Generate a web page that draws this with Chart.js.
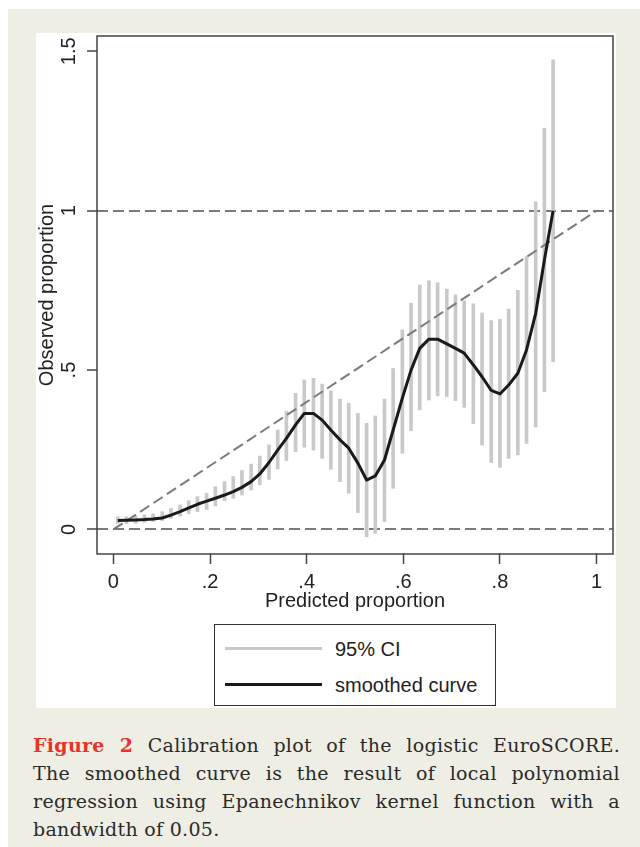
<!DOCTYPE html>
<html>
<head>
<meta charset="utf-8">
<script src="https://cdn.jsdelivr.net/npm/chart.js@4/dist/chart.umd.min.js"></script>
<style>
  body { margin: 0; background: #ffffff; }
  #panel { position: absolute; left: 8px; top: 9px; width: 632px; height: 838px; background: #efeee4; }
  #plot { position: absolute; left: 36px; top: 33px; width: 580px; height: 675px; background: #ffffff; }
  #chart { position: absolute; left: 0; top: 0; }
  #legend { position: absolute; left: 178px; top: 591px; width: 282px; height: 82px; border: 1px solid #333; box-sizing: border-box;
            font-family: "Liberation Sans", Arial, sans-serif; font-size: 20px; color: #222; }
  .row { position: absolute; left: 0; height: 24px; line-height: 24px; }
  .row .swatch { position: absolute; left: 10px; top: 10px; width: 97px; height: 3px; }
  .row .txt { position: absolute; left: 120px; top: 0; white-space: nowrap; }
  #caption { position: absolute; left: 33px; top: 731px; width: 587px; font-family: "DejaVu Serif", "Liberation Serif", serif;
             font-size: 19px; line-height: 28px; letter-spacing: 0.3px; color: #2a2a2a; }
  #caption div { text-align: justify; text-align-last: justify; white-space: nowrap; }
  #caption div.last { text-align-last: left; }
  #caption b { color: #e8332a; }
</style>
</head>
<body>
<div id="panel"></div>
<div id="plot">
  <canvas id="chart" width="580" height="590"></canvas>
  <div id="legend"></div>
</div>
<div id="caption">
  <div><b>Figure 2</b> Calibration plot of the logistic EuroSCORE.</div>
  <div>The smoothed curve is the result of local polynomial</div>
  <div>regression using Epanechnikov kernel function with a</div>
  <div class="last">bandwidth of 0.05.</div>
</div>
<script>
// grid points of the smoother (predicted proportion)
var gridX = [0.009, 0.027, 0.046, 0.064, 0.082, 0.101, 0.119, 0.138, 0.156, 0.174,
             0.193, 0.211, 0.230, 0.248, 0.266, 0.285, 0.303, 0.322, 0.340, 0.358,
             0.377, 0.395, 0.414, 0.432, 0.450, 0.469, 0.487, 0.506, 0.524, 0.542,
             0.561, 0.579, 0.598, 0.616, 0.634, 0.653, 0.671, 0.690, 0.708, 0.726,
             0.745, 0.763, 0.782, 0.800, 0.818, 0.837, 0.855, 0.874, 0.892, 0.910];

// smoothed curve (observed proportion)
var smoothY = [0.028, 0.029, 0.030, 0.031, 0.033, 0.036, 0.045, 0.056, 0.068, 0.079,
               0.089, 0.098, 0.108, 0.119, 0.132, 0.150, 0.174, 0.210, 0.249, 0.286,
               0.328, 0.364, 0.364, 0.343, 0.312, 0.281, 0.255, 0.208, 0.155, 0.168,
               0.218, 0.312, 0.412, 0.500, 0.568, 0.597, 0.597, 0.582, 0.568, 0.553,
               0.516, 0.479, 0.436, 0.425, 0.453, 0.490, 0.563, 0.678, 0.845, 1.000];

// 95% CI lower and upper limits
var ciLow = [0.019, 0.018, 0.019, 0.022, 0.025, 0.028, 0.035, 0.042, 0.050, 0.056,
             0.063, 0.074, 0.090, 0.098, 0.108, 0.124, 0.140, 0.157, 0.190, 0.216,
             0.244, 0.258, 0.249, 0.223, 0.189, 0.150, 0.114, 0.053, -0.023, -0.012,
             0.025, 0.129, 0.239, 0.310, 0.375, 0.406, 0.419, 0.417, 0.404, 0.383,
             0.332, 0.265, 0.210, 0.195, 0.223, 0.234, 0.270, 0.322, 0.432, 0.526];
var ciHigh = [0.040, 0.040, 0.042, 0.046, 0.049, 0.056, 0.066, 0.077, 0.090, 0.103,
              0.113, 0.134, 0.150, 0.166, 0.185, 0.205, 0.230, 0.265, 0.312, 0.370,
              0.427, 0.469, 0.474, 0.456, 0.435, 0.409, 0.396, 0.364, 0.333, 0.356,
              0.409, 0.505, 0.626, 0.710, 0.767, 0.780, 0.774, 0.754, 0.736, 0.717,
              0.708, 0.679, 0.655, 0.659, 0.691, 0.750, 0.856, 1.028, 1.258, 1.473];

// perfect calibration line and reference levels
var refX = [0, 1];
var refY = [0, 1];
var refLevels = [0, 1];

var xTickValues = [0, 0.2, 0.4, 0.6, 0.8, 1];
var xTickLabels = ['0', '.2', '.4', '.6', '.8', '1'];
var yTickValues = [0, 0.5, 1, 1.5];
var yTickLabels = ['0', '.5', '1', '1.5'];

var legendLabels = ['95% CI', 'smoothed curve'];
var ciColor = '#c9c9c9';
var curveColor = '#1a1a1a';
var refColor = '#7a7a7a';
var axisFont = { family: '"Liberation Sans", Arial, sans-serif', size: 20 };

// frame round the plot region
var framePlugin = {
    id: 'frame',
    afterDraw: function(chart) {
        var a = chart.chartArea, c = chart.ctx;
        c.save();
        c.strokeStyle = '#444';
        c.lineWidth = 1.5;
        c.strokeRect(a.left, a.top, a.right - a.left, a.bottom - a.top);
        c.restore();
    }
};

new Chart(document.getElementById('chart'), {
    type: 'bar',
    data: {
        datasets: [{
            type: 'line',
            label: legendLabels[1],
            data: gridX.map(function(x, i) { return { x: x, y: smoothY[i] }; }),
            borderColor: curveColor,
            borderWidth: 3,
            pointRadius: 0,
            tension: 0,
            borderJoinStyle: 'round',
            order: 1
        }, {
            type: 'line',
            label: 'reference',
            data: refX.map(function(x, i) { return { x: x, y: refY[i] }; }),
            borderColor: refColor,
            borderWidth: 2,
            borderDash: [11, 5],
            pointRadius: 0,
            order: 2
        }, {
            type: 'bar',
            label: legendLabels[0],
            data: gridX.map(function(x, i) { return { x: x, y: [ciLow[i], ciHigh[i]] }; }),
            backgroundColor: ciColor,
            borderWidth: 0,
            barThickness: 3,
            order: 3
        }]
    },
    options: {
        responsive: false,
        animation: false,
        layout: { padding: { left: 0, top: 3, right: 3, bottom: 0 } },
        plugins: { legend: { display: false }, tooltip: { enabled: false } },
        scales: {
            x: {
                type: 'linear',
                min: -0.034,
                max: 1.034,
                offset: false,
                afterBuildTicks: function(s) { s.ticks = xTickValues.map(function(v) { return { value: v }; }); },
                afterFit: function(s) { s.height = 69; s.paddingLeft = 0; s.paddingRight = 0; },
                grid: { offset: false, drawOnChartArea: false, tickLength: 10, tickColor: '#444', tickWidth: 1.5 },
                border: { display: false },
                ticks: {
                    autoSkip: false, maxRotation: 0, padding: 6, color: '#222', font: axisFont,
                    callback: function(v) { return xTickLabels[xTickValues.indexOf(v)]; }
                },
                title: { display: true, text: 'Predicted proportion', color: '#222', font: axisFont, padding: { top: 0, bottom: 10 } }
            },
            y: {
                type: 'linear',
                min: -0.077,
                max: 1.548,
                afterBuildTicks: function(s) { s.ticks = yTickValues.map(function(v) { return { value: v }; }); },
                // rotated labels must not shrink the plot region
                afterFit: function(s) { s.width = 61; s.paddingTop = 0; s.paddingBottom = 0; },
                grid: {
                    color: function(ctx) { return ctx.tick && refLevels.indexOf(ctx.tick.value) >= 0 ? refColor : 'rgba(0,0,0,0)'; },
                    lineWidth: 2,
                    tickLength: 10, tickColor: '#444', tickWidth: 1.5, tickBorderDash: []
                },
                border: { display: false, dash: [11, 5] },
                ticks: {
                    autoSkip: false, minRotation: 90, maxRotation: 90, crossAlign: 'center', padding: 4,
                    color: '#222', font: axisFont,
                    callback: function(v) { return yTickLabels[yTickValues.indexOf(v)]; }
                },
                title: { display: true, text: 'Observed proportion', color: '#222', font: { family: axisFont.family, size: 20, lineHeight: 1.1 }, padding: { top: 0, bottom: 0 } }
            }
        }
    },
    plugins: [framePlugin]
});

// legend box as in the figure
var legend = document.getElementById('legend');
[ciColor, curveColor].forEach(function(col, i) {
    var row = document.createElement('div');
    row.className = 'row';
    row.style.top = (i === 0 ? 12 : 48) + 'px';
    row.innerHTML = '<div class="swatch" style="background:' + col + '"></div><div class="txt">' + legendLabels[i] + '</div>';
    legend.appendChild(row);
});
</script>
</body>
</html>
